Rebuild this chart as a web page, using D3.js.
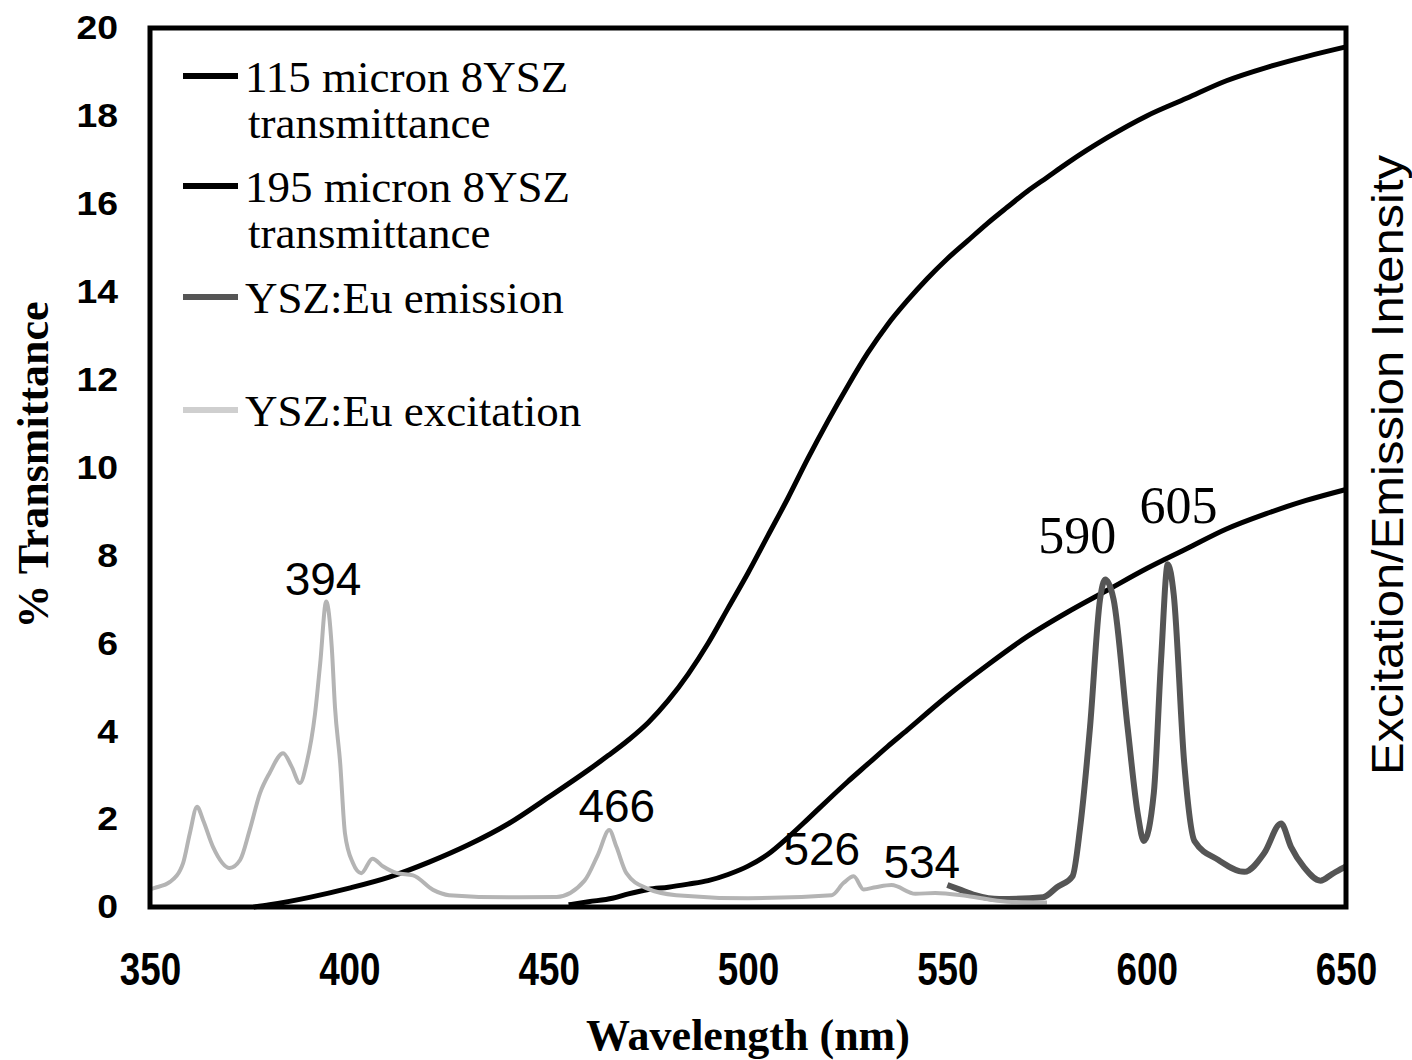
<!DOCTYPE html>
<html>
<head>
<meta charset="utf-8">
<script src="https://cdn.jsdelivr.net/npm/d3@7/dist/d3.min.js"></script>
<style>
body { margin: 0; background: #fff; }
</style>
</head>
<body>
<div id="chart-area"></div>
<script>
// wavelength axis (nm) and % transmittance axis
var xTicks = [350, 400, 450, 500, 550, 600, 650];
var yTicks = [0, 2, 4, 6, 8, 10, 12, 14, 16, 18, 20];

// 115 micron 8YSZ transmittance
var t115Nm  = [376, 380, 390, 400, 410, 420, 430, 440, 450, 460, 465, 470, 475, 480, 485, 490, 495, 500, 505, 510, 515, 520, 525, 530, 535, 540, 545, 550, 555, 560, 565, 570, 575, 580, 585, 590, 600, 610, 620, 630, 640, 650];
var t115Val = [0, 0.05, 0.22, 0.43, 0.68, 1.02, 1.42, 1.9, 2.5, 3.12, 3.45, 3.8, 4.2, 4.7, 5.3, 6.0, 6.8, 7.6, 8.45, 9.3, 10.2, 11.05, 11.85, 12.6, 13.25, 13.8, 14.3, 14.75, 15.15, 15.55, 15.92, 16.28, 16.6, 16.92, 17.22, 17.5, 18.0, 18.4, 18.8, 19.1, 19.35, 19.57];

// 195 micron 8YSZ transmittance
var t195Nm  = [455, 460, 466, 470, 475, 480, 485, 490, 495, 500, 505, 510, 515, 520, 525, 530, 535, 540, 545, 550, 560, 570, 580, 590, 600, 610, 620, 630, 640, 650];
var t195Val = [0.05, 0.12, 0.2, 0.3, 0.4, 0.45, 0.52, 0.6, 0.74, 0.93, 1.2, 1.58, 2.0, 2.43, 2.85, 3.25, 3.65, 4.03, 4.42, 4.8, 5.5, 6.15, 6.7, 7.2, 7.7, 8.15, 8.6, 8.95, 9.25, 9.5];

// YSZ:Eu emission
var emNm  = [550, 553, 557, 563, 574, 577.5, 581.4, 583.3, 585.8, 588.3, 589.6, 591.7, 595.2, 597.8, 599.3, 601.8, 603.6, 605.3, 606.8, 609.4, 612, 618, 624.5, 629.5, 633.7, 636.2, 639.5, 643.6, 646.5, 649.5, 650];
var emVal = [0.5, 0.4, 0.27, 0.18, 0.22, 0.45, 0.7, 1.8, 4.1, 7.0, 7.45, 7.0, 4.1, 2.1, 1.5, 2.6, 5.6, 7.8, 7.1, 3.3, 1.5, 1.07, 0.8, 1.23, 1.9, 1.37, 0.9, 0.6, 0.75, 0.9, 0.92];

// YSZ:Eu excitation
var exNm  = [350, 351, 355, 358.3, 360, 361.8, 363.3, 365.8, 370, 372.6, 375, 377.6, 380, 383.4, 385.5, 387.6, 389.3, 391.4, 392.7, 394.2, 395.6, 396.4, 397.7, 398.9, 400.9, 403, 405.8, 408.5, 412, 416, 421, 425, 440, 452, 459, 462.4, 465.2, 467, 469.5, 474.5, 482, 500, 521, 524, 526.5, 529, 532, 536, 542, 547, 555, 565, 575];
var exVal = [0.4, 0.43, 0.57, 1.0, 1.68, 2.28, 1.98, 1.37, 0.89, 1.07, 1.75, 2.59, 3.05, 3.5, 3.2, 2.82, 3.28, 4.4, 5.55, 6.95, 5.9, 4.55, 3.28, 1.68, 1.0, 0.77, 1.1, 0.92, 0.77, 0.72, 0.39, 0.27, 0.22, 0.23, 0.6, 1.2, 1.75, 1.37, 0.77, 0.43, 0.27, 0.2, 0.27, 0.55, 0.7, 0.4, 0.45, 0.5, 0.3, 0.32, 0.25, 0.12, 0.1];

// peak annotations (text, nm, value at baseline)
var peakText = ["394", "466", "526", "534", "590", "605"];
var peakNm   = [393.4, 467.1, 518.5, 543.6, 582.6, 608];
var peakVal  = [7.1, 1.93, 0.96, 0.66, 8.05, 8.74];
var peakSerif = [false, false, false, false, true, true];

var legendNames = ["115 micron 8YSZ|transmittance", "195 micron 8YSZ|transmittance", "YSZ:Eu emission", "YSZ:Eu excitation"];

var margin = {left: 150, top: 28, right: 66, bottom: 153};
var width = 1412 - margin.left - margin.right;
var height = 1060 - margin.top - margin.bottom;

var svg = d3.select("#chart-area")
    .append("svg")
        .attr("width", 1412)
        .attr("height", 1060);

var g = svg.append("g")
    .attr("transform", "translate(" + margin.left + ", " + margin.top + ")");

var x = d3.scaleLinear().domain([350, 650]).range([0, width]);
var y = d3.scaleLinear().domain([0, 20]).range([height, 0]);

function pairs(xs, ys) {
    return xs.map(function(d, i) { return [d, ys[i]]; });
}

var line = d3.line()
    .x(function(d) { return x(d[0]); })
    .y(function(d) { return y(d[1]); })
    .curve(d3.curveMonotoneX);

// series
var series = [
    {data: pairs(t115Nm, t115Val), color: "#000", w: 5},
    {data: pairs(t195Nm, t195Val), color: "#000", w: 5},
    {data: pairs(emNm, emVal), color: "#555", w: 6},
    {data: pairs(exNm, exVal), color: "#b4b4b4", w: 4}
];

series.forEach(function(s) {
    g.append("path")
        .attr("d", line(s.data))
        .attr("fill", "none")
        .attr("stroke", s.color)
        .attr("stroke-width", s.w)
        .attr("stroke-linejoin", "round");
});

// x axis
var xAxisCall = d3.axisBottom(x)
    .tickValues(xTicks)
    .tickSize(0)
    .tickPadding(45);
var xAxis = g.append("g")
    .attr("transform", "translate(0, " + height + ")")
    .call(xAxisCall);
xAxis.select(".domain").remove();
xAxis.selectAll("text")
    .attr("font-family", "'Liberation Sans', Arial, sans-serif")
    .attr("font-weight", "bold")
    .attr("font-size", "46px")
    .attr("transform", "scale(0.8, 1)")
    .attr("fill", "#000");

// y axis
var yAxisCall = d3.axisLeft(y)
    .tickValues(yTicks)
    .tickSize(0)
    .tickPadding(29);
var yAxis = g.append("g").call(yAxisCall);
yAxis.select(".domain").remove();
yAxis.selectAll("text")
    .attr("font-family", "'Liberation Sans', Arial, sans-serif")
    .attr("font-weight", "bold")
    .attr("font-size", "34px")
    .attr("transform", "scale(1.1, 1)")
    .attr("fill", "#000");

// frame
g.append("rect")
    .attr("x", 0)
    .attr("y", 0)
    .attr("width", width)
    .attr("height", height)
    .attr("fill", "none")
    .attr("stroke", "#000")
    .attr("stroke-width", 5);

// peak labels
peakText.forEach(function(t, i) {
    g.append("text")
        .attr("x", x(peakNm[i]))
        .attr("y", y(peakVal[i]))
        .attr("text-anchor", "middle")
        .attr("font-family", peakSerif[i] ? "'Liberation Serif', 'Times New Roman', serif" : "'Liberation Sans', Arial, sans-serif")
        .attr("font-size", peakSerif[i] ? "52px" : "46px")
        .attr("fill", "#000")
        .text(t);
});

// legend
var legendLineY = [76, 186, 297, 410];
var legendColors = ["#000", "#000", "#555", "#cfcfcf"];
var legend = svg.append("g");
legendNames.forEach(function(name, i) {
    legend.append("line")
        .attr("x1", 183).attr("x2", 238)
        .attr("y1", legendLineY[i]).attr("y2", legendLineY[i])
        .attr("stroke", legendColors[i])
        .attr("stroke-width", 6);
    var t = legend.append("text")
        .attr("x", 245)
        .attr("y", legendLineY[i] + 16)
        .attr("font-family", "'Liberation Serif', 'Times New Roman', serif")
        .attr("font-size", "45px")
        .attr("fill", "#000");
    name.split("|").forEach(function(part, j) {
        t.append("tspan")
            .attr("x", j == 0 ? 245 : 248)
            .attr("dy", j == 0 ? 0 : 46)
            .text(part);
    });
});

// x label
svg.append("text")
    .attr("x", 748)
    .attr("y", 1050)
    .attr("text-anchor", "middle")
    .attr("font-family", "'Liberation Serif', 'Times New Roman', serif")
    .attr("font-weight", "bold")
    .attr("font-size", "44px")
    .text("Wavelength (nm)");

// y label
svg.append("text")
    .attr("transform", "translate(48, 465) rotate(-90)")
    .attr("text-anchor", "middle")
    .attr("font-family", "'Liberation Serif', 'Times New Roman', serif")
    .attr("font-weight", "bold")
    .attr("font-size", "44px")
    .text("% Transmittance");

// right label
svg.append("text")
    .attr("transform", "translate(1403, 465) rotate(-90)")
    .attr("text-anchor", "middle")
    .attr("font-family", "'Liberation Sans', Arial, sans-serif")
    .attr("font-size", "44px")
    .attr("textLength", 620)
    .attr("lengthAdjust", "spacingAndGlyphs")
    .text("Excitation/Emission Intensity");
</script>
</body>
</html>
